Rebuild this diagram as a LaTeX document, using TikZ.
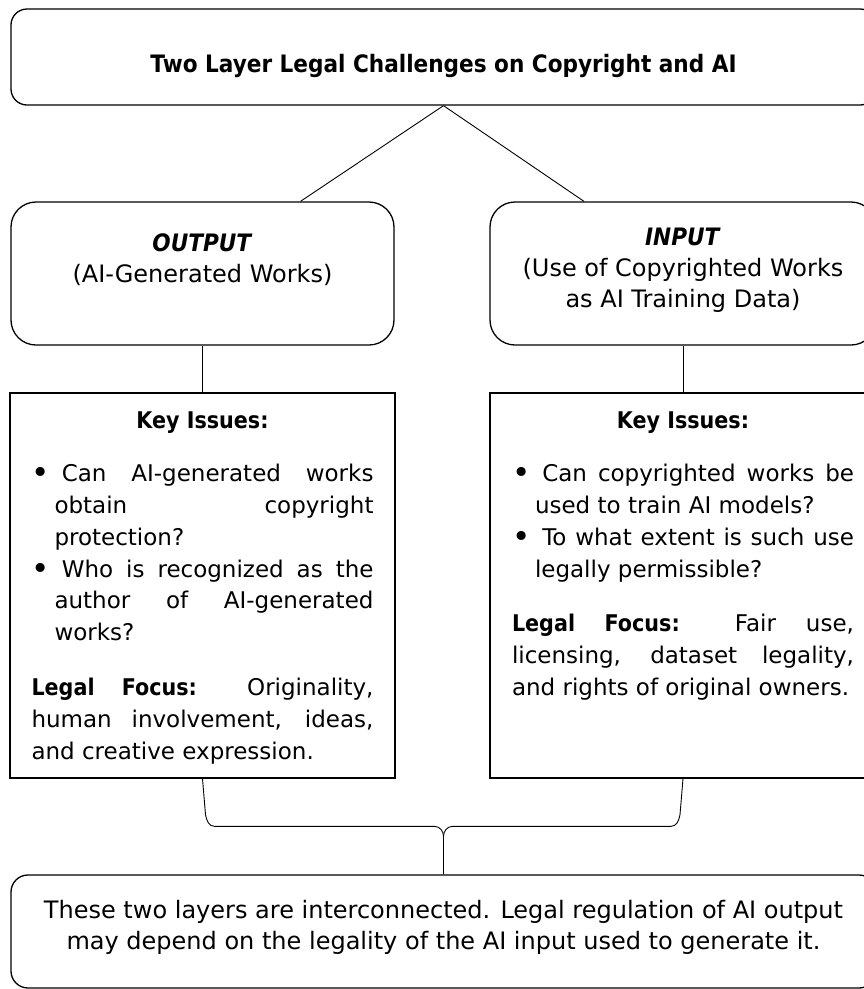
\documentclass[tikz,border=0pt]{standalone}
\usepackage{graphicx}
\usepackage{fontspec}
\setmainfont{DejaVu Sans}[BoldFeatures={FakeStretch=0.9},BoldItalicFeatures={FakeStretch=0.9}]
\usetikzlibrary{calc}

\tolerance=10000
\hbadness=10000
\hyphenpenalty=10000
\exhyphenpenalty=10000
\newenvironment{keylist}{\begin{list}{\raisebox{-2pt}{\scalebox{1.35}{\textbullet}}}{\setlength\leftmargin{23pt}\setlength\labelsep{12pt}\setlength\labelwidth{11pt}\setlength\topsep{0pt}\setlength\partopsep{0pt}\setlength\itemsep{0pt}\setlength\parsep{0pt}}}{\end{list}}

\begin{document}
\begin{tikzpicture}[x=1pt,y=-1pt,
    roundbox/.style={draw,line width=1.3pt,inner sep=0pt},
    sharpbox/.style={draw,line width=1.3pt,inner sep=0pt},
    link/.style={line width=0.9pt},
    heading/.style={font=\fontsize{24}{31}\selectfont,align=center,inner sep=0pt},
    keytext/.style={font=\fontsize{23}{31.8}\selectfont,text width=342pt,align=justify,inner sep=0pt,anchor=north}]
    \useasboundingbox (0,0) rectangle (864,989);

    \node[roundbox,rounded corners=16pt,minimum width=865pt,minimum height=96pt] (top) at (443.5,57) {};
    \node[heading,font=\fontsize{24}{31}\selectfont\bfseries] (toptxt) at (443.5,65.5) {Two Layer Legal Challenges on Copyright and AI};

    \node[roundbox,rounded corners=25pt,minimum width=383pt,minimum height=143pt] (out) at (202.5,273.5) {};
    \node[heading,anchor=north] (outtxt) at (202.5,233) {\textbf{\textit{OUTPUT}}\\(AI-Generated Works)};
    \node[roundbox,rounded corners=25pt,minimum width=386pt,minimum height=143pt] (in) at (683,273.5) {};
    \node[heading,anchor=north] (intxt) at (683,228) {\textbf{\textit{INPUT}}\\(Use of Copyrighted Works\\as AI Training Data)};

    \draw[link] (top.south) -- ([xshift=98pt]out.north);
    \draw[link] (top.south) -- ([xshift=-99pt]in.north);

    \node[sharpbox,minimum width=385pt,minimum height=385pt] (lkey) at (202.5,585.5) {};
    \node[sharpbox,minimum width=386pt,minimum height=385pt] (rkey) at (683,585.5) {};
    \draw[link] (out.south) -- (lkey.north);
    \draw[link] (in.south) -- (rkey.north);

    \node[keytext] (lkeytxt) at (202.5,412) {\centerline{\textbf{Key Issues:}}\vspace{21pt}
        \begin{keylist}
        \item Can AI-generated works\linebreak obtain copyright\linebreak protection?
        \item Who is recognized as the\linebreak author of AI-generated\linebreak works?
        \end{keylist}
        \vspace{23pt}
        \textbf{Legal Focus:} Originality,\linebreak human involvement, ideas,\linebreak and creative expression.};
    \node[keytext] (rkeytxt) at (683,412) {\centerline{\textbf{Key Issues:}}\vspace{21pt}
        \begin{keylist}
        \item Can copyrighted works be\linebreak used to train AI models?
        \item To what extent is such use\linebreak legally permissible?
        \end{keylist}
        \vspace{23pt}
        \textbf{Legal Focus:} Fair use,\linebreak licensing, dataset legality,\linebreak and rights of original owners.};

    \node[roundbox,rounded corners=17pt,minimum width=865pt,minimum height=113pt] (note) at (443.5,931.5) {};
    \node[heading] (notetxt) at (443.5,927) {These two layers are interconnected. Legal regulation of AI output\\may depend on the legality of the AI input used to generate it.};

    \coordinate (bar) at ([yshift=48pt]note.north);
    \coordinate (tip) at ([yshift=38pt]note.north);
    \draw[link] (lkey.south) -- ([xshift=3pt,yshift=-36pt]lkey.south) to[out=-80,in=180] ([xshift=12pt]lkey.south |- bar)
        -- ([xshift=-9pt]bar) to[out=0,in=90] (tip) -- (note.north);
    \draw[link] (rkey.south) -- ([xshift=-3pt,yshift=-36pt]rkey.south) to[out=-100,in=0] ([xshift=-12pt]rkey.south |- bar)
        -- ([xshift=9pt]bar) to[out=180,in=90] (tip);
\end{tikzpicture}
\end{document}
